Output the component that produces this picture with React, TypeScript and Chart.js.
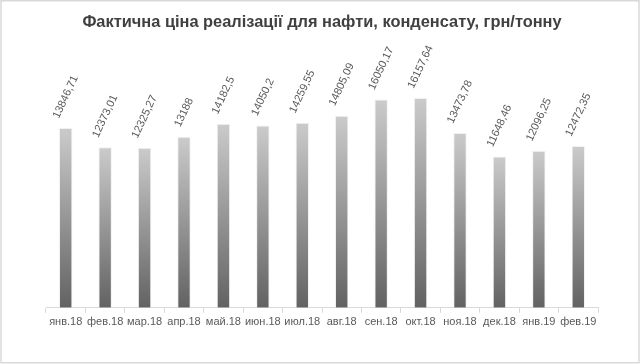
import React, { useEffect, useRef } from "react";
import { Chart, registerables } from "chart.js";

Chart.register(...registerables);

const TITLE = "Фактична ціна реалізації для нафти, конденсату, грн/тонну";
const categories = [
  "янв.18", "фев.18", "мар.18", "апр.18", "май.18", "июн.18", "июл.18",
  "авг.18", "сен.18", "окт.18", "ноя.18", "дек.18", "янв.19", "фев.19",
];
const values = [
  13846.71, 12373.01, 12325.27, 13188, 14182.5, 14050.2, 14259.55,
  14805.09, 16050.17, 16157.64, 13473.78, 11648.46, 12096.25, 12472.35,
];
const labelTexts = [
  "13846,71", "12373,01", "12325,27", "13188", "14182,5", "14050,2", "14259,55",
  "14805,09", "16050,17", "16157,64", "13473,78", "11648,46", "12096,25", "12472,35",
];
const yMin = 0;
const yMax = 18000;

const FONT = "'Liberation Sans', Arial, sans-serif";

const labelPlugin = {
  id: "rotLabels",
  afterDatasetsDraw(chart: any) {
    const ctx = chart.ctx;
    const meta = chart.getDatasetMeta(0);
    const ang = (65 * Math.PI) / 180;
    ctx.save();
    ctx.font = `11px ${FONT}`;
    ctx.fillStyle = "#595959";
    ctx.textAlign = "center";
    ctx.textBaseline = "middle";
    meta.data.forEach((bar: any, i: number) => {
      const t = labelTexts[i];
      const w = ctx.measureText(t).width;
      const h = 11;
      const half = (w * Math.sin(ang) + h * Math.cos(ang)) / 2;
      ctx.save();
      ctx.translate(bar.x, bar.y - 8 - half);
      ctx.rotate(-ang);
      ctx.fillText(t, 0, 0);
      ctx.restore();
    });
    ctx.restore();
  },
};

const framePlugin = {
  id: "frame",
  afterDraw(chart: any) {
    const ctx = chart.ctx;
    ctx.save();
    ctx.strokeStyle = "#d9d9d9";
    ctx.lineWidth = 1.5;
    ctx.strokeRect(1, 0.75, chart.width - 2, chart.height - 2);
    ctx.restore();
  },
};

export default function App() {
  const ref = useRef<HTMLCanvasElement | null>(null);
  useEffect(() => {
    document.body.style.margin = "0";
    const canvas = ref.current!;
    const chart = new Chart(canvas, {
      type: "bar",
      data: {
        labels: categories,
        datasets: [
          {
            data: values,
            backgroundColor: (c: any) => {
              const ch = c.chart;
              const ys = ch.scales?.y;
              if (!ys || c.raw == null) return "#999999";
              const top = ys.getPixelForValue(c.raw);
              const bottom = ys.getPixelForValue(0);
              if (!isFinite(top) || !isFinite(bottom) || top === bottom) return "#999999";
              const g = ch.ctx.createLinearGradient(0, top, 0, bottom);
              g.addColorStop(0, "#cbcbcb");
              g.addColorStop(1, "#626262");
              return g;
            },
            borderColor: "rgba(235,235,235,0.7)",
            borderWidth: 1,
            barPercentage: 0.34,
            categoryPercentage: 1,
          },
        ],
      },
      options: {
        animation: false,
        responsive: false,
        devicePixelRatio: 1,
        layout: { padding: { top: 0, left: 46, right: 42, bottom: 32 } },
        plugins: {
          legend: { display: false },
          tooltip: { enabled: false },
          title: {
            display: true,
            text: TITLE,
            color: "#404040",
            font: { family: FONT, size: 16.4, weight: "bold" },
            padding: { top: 13, bottom: 41.5 },
          },
        },
        scales: {
          x: {
            offset: true,
            grid: {
              offset: true,
              drawOnChartArea: false,
              drawTicks: true,
              tickLength: 5,
              color: "#d9d9d9",
            },
            border: { color: "#d9d9d9" },
            ticks: {
              color: "#595959",
              font: { family: FONT, size: 11 },
              maxRotation: 0,
              minRotation: 0,
              autoSkip: false,
              padding: 3,
            },
          },
          y: {
            display: false,
            min: yMin,
            max: yMax,
          },
        },
      },
      plugins: [labelPlugin, framePlugin],
    } as any);
    return () => chart.destroy();
  }, []);
  return <canvas ref={ref} width={640} height={364} style={{ display: "block" }} />;
}
